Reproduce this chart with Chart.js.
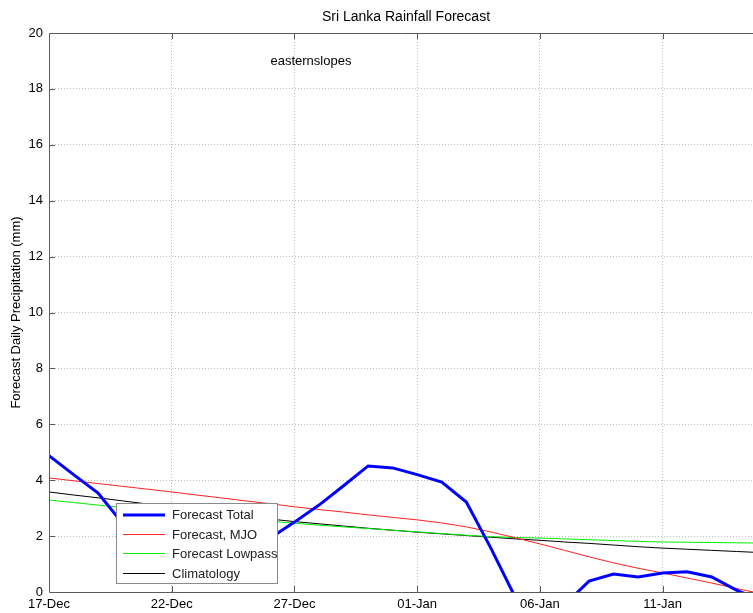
<!DOCTYPE html>
<html><head><meta charset="utf-8">
<script src="https://cdn.jsdelivr.net/npm/chart.js@4.4.0/dist/chart.umd.min.js"></script>
<style>html,body{margin:0;padding:0;background:#fff;overflow:hidden}#wrap{width:753px;height:613px}</style>
</head><body><div id="wrap"><canvas id="c" width="753" height="613"></canvas></div>
<script>
// ---- data (day offset from 17-Dec) ----
const days = [0,1,2,3,4,5,6,7,8,9,10,11,12,13,14,15,16,17,18,19,20,21,22,23,24,25,26,27,28,29];
const forecastTotal = [4.88,4.2,3.54,2.45,2.0,1.75,1.6,1.6,1.75,1.92,2.5,3.11,3.8,4.51,4.44,4.2,3.93,3.22,1.57,-0.2,-0.9,-0.46,0.39,0.64,0.54,0.68,0.72,0.54,0.07,-0.3];
const forecastMJO = [4.08,3.98,3.88,3.78,3.68,3.58,3.47,3.37,3.26,3.16,3.05,2.95,2.86,2.76,2.67,2.58,2.47,2.33,2.15,1.94,1.72,1.49,1.26,1.04,0.85,0.68,0.5,0.32,0.13,-0.06];
const forecastLowpass = [3.29,3.2,3.11,3.02,2.93,2.85,2.77,2.69,2.61,2.53,2.46,2.39,2.33,2.27,2.21,2.15,2.09,2.03,1.98,1.95,1.93,1.9,1.87,1.84,1.81,1.79,1.78,1.77,1.76,1.75];
const climatology = [3.58,3.47,3.37,3.26,3.15,3.04,2.94,2.83,2.72,2.61,2.52,2.44,2.36,2.28,2.21,2.14,2.08,2.02,1.96,1.9,1.85,1.79,1.74,1.68,1.62,1.57,1.53,1.49,1.45,1.41];
const seriesNames = ['Forecast Total','Forecast, MJO','Forecast Lowpass','Climatology'];
const tickDays = [0,5,10,15,20,25];
const tickLabels = ['17-Dec','22-Dec','27-Dec','01-Jan','06-Jan','11-Jan'];
const xMax = 28.68;
const yTicks = [0,2,4,6,8,10,12,14,16,18,20];
const noteText = 'easternslopes';
const noteAt = {x: 10.67, y: 19.0};

const FONT = 'Liberation Sans, Arial, Helvetica, sans-serif';
const AXC = '#5a5a5a';

const toPts = arr => days.map((d,i)=>({x:d,y:arr[i]}));

const framePlugin = {
  id:'frame',
  afterDatasetsDraw(chart){
    const {ctx, chartArea:a, scales:{x,y}} = chart;
    ctx.save();
    // title (centred slightly right of the plot-area centre, as in the source figure)
    ctx.fillStyle = '#000';
    ctx.font = '14px ' + FONT;
    ctx.textAlign = 'center'; ctx.textBaseline = 'middle';
    ctx.fillText('Sri Lanka Rainfall Forecast', (a.left + a.right)/2 + 5, 17);
    // annotation text
    ctx.font = '13px ' + FONT;
    ctx.fillText(noteText, x.getPixelForValue(noteAt.x), y.getPixelForValue(noteAt.y));
    // axes box (left, top, bottom) and tick marks
    ctx.strokeStyle = AXC; ctx.lineWidth = 1;
    ctx.beginPath();
    ctx.moveTo(a.right+1, Math.round(a.top)+0.5); ctx.lineTo(Math.round(a.left)+0.5, Math.round(a.top)+0.5);
    ctx.lineTo(Math.round(a.left)+0.5, Math.round(a.bottom)+0.5); ctx.lineTo(a.right+1, Math.round(a.bottom)+0.5);
    tickDays.forEach(d=>{
      if(d===0) return;
      const px = Math.round(x.getPixelForValue(d))+0.5;
      ctx.moveTo(px, a.bottom); ctx.lineTo(px, a.bottom-6);
      ctx.moveTo(px, a.top); ctx.lineTo(px, a.top+6);
    });
    yTicks.forEach(v=>{
      if(v===0||v===20) return;
      const py = Math.round(y.getPixelForValue(v))+0.5;
      ctx.moveTo(a.left, py); ctx.lineTo(a.left+6, py);
    });
    ctx.stroke();
    // legend
    const L = {x:116.5, y:503.5, w:161, h:80};
    ctx.fillStyle = '#fff'; ctx.fillRect(L.x, L.y, L.w, L.h);
    ctx.strokeStyle = '#8a8a8a'; ctx.strokeRect(L.x, L.y, L.w, L.h);
    const rows = [515, 534.5, 553.5, 573.5];
    chart.data.datasets.forEach((ds,i)=>{
      ctx.strokeStyle = ds.borderColor; ctx.lineWidth = ds.borderWidth;
      ctx.beginPath(); ctx.moveTo(123, rows[i]); ctx.lineTo(165, rows[i]); ctx.stroke();
      ctx.fillStyle = '#222'; ctx.font = '13px ' + FONT;
      ctx.textAlign = 'left'; ctx.textBaseline = 'middle';
      ctx.fillText(ds.label, 172, Math.round(rows[i]));
    });
    ctx.restore();
  }
};

new Chart(document.getElementById('c'), {
  type:'line',
  data:{datasets:[
    {label:seriesNames[0], data:toPts(forecastTotal), borderColor:'#0000ff', borderWidth:3},
    {label:seriesNames[1], data:toPts(forecastMJO), borderColor:'#ff2020', borderWidth:1},
    {label:seriesNames[2], data:toPts(forecastLowpass), borderColor:'#00ee00', borderWidth:1},
    {label:seriesNames[3], data:toPts(climatology), borderColor:'#000000', borderWidth:1}
  ]},
  options:{
    responsive:false, animation:false,
    clip:0,
    elements:{point:{radius:0}, line:{tension:0}},
    layout:{padding:{top:33,left:0,right:0,bottom:0}},
    plugins:{
      legend:{display:false}, tooltip:{enabled:false}, title:{display:false}
    },
    scales:{
      x:{type:'linear', min:0, max:xMax,
        afterBuildTicks:s=>{ s.ticks = tickDays.map(v=>({value:v})); },
        afterFit:s=>{ s.height = 21; },
        ticks:{callback:v=>tickLabels[tickDays.indexOf(v)], color:'#000', padding:5, maxRotation:0, autoSkip:false,
          font:{family:FONT, size:13}},
        grid:{drawTicks:false, color:c=> (c.tick && c.tick.value===0) ? 'transparent' : '#bdbdbd', lineWidth:1},
        border:{display:false, dash:[1,2]}
      },
      y:{min:0, max:20,
        afterBuildTicks:s=>{ s.ticks = yTicks.map(v=>({value:v})); },
        afterFit:s=>{ s.width = 49; },
        ticks:{color:'#000', padding:6, font:{family:FONT, size:13}},
        grid:{drawTicks:false, color:c=> (c.tick && (c.tick.value===0||c.tick.value===20)) ? 'transparent' : '#bdbdbd', lineWidth:1},
        border:{display:false, dash:[1,2]},
        title:{display:true, text:'Forecast Daily Precipitation (mm)', color:'#000',
          font:{family:FONT, size:13}, padding:{top:9,bottom:0}}
      }
    }
  },
  plugins:[framePlugin]
});
</script></body></html>
